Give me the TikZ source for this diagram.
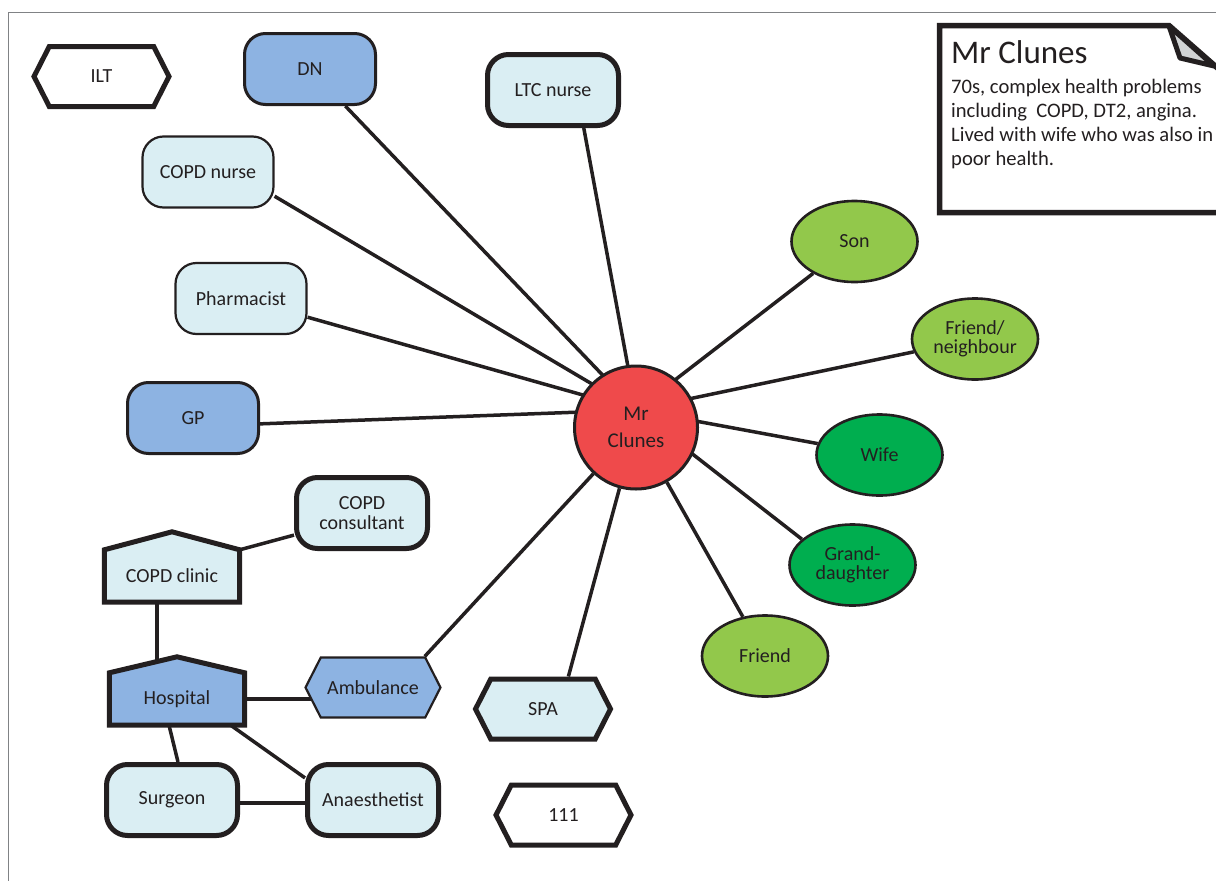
\documentclass[tikz,border=0pt]{standalone}
\usepackage{fontspec}
\setmainfont{Carlito}
\usetikzlibrary{shapes.geometric,shapes.symbols,calc}
\definecolor{ink}{HTML}{231F20}
\definecolor{blu}{HTML}{8DB3E2}
\definecolor{lblu}{HTML}{DAEEF3}
\definecolor{redc}{HTML}{EF4A4B}
\definecolor{lgreen}{HTML}{92C84B}
\definecolor{dgreen}{HTML}{00AE4F}
\definecolor{foldgray}{HTML}{D1D3D4}
\definecolor{framegray}{HTML}{808285}
\pgfdeclarelayer{edgelayer}
\pgfdeclarelayer{houselayer}
\pgfsetlayers{edgelayer,houselayer,main}
\begin{document}
\begin{tikzpicture}[x=1pt,y=-1pt,
  every node/.style={font=\fontsize{20}{19.5}\selectfont, text=ink, align=center},
  bthin/.style={line width=2.2pt},
  bmid/.style={line width=3pt},
  bthick/.style={line width=5pt},
  rbox/.style={rectangle, rounded corners=21pt, draw=ink, minimum width=131pt, minimum height=71pt, inner sep=0pt},
  hexa/.style={signal, signal to=west and east, signal pointer angle=126, draw=ink, minimum width=135pt, minimum height=60pt, inner sep=0pt},
  oval/.style={ellipse, draw=ink, line width=2.6pt, minimum width=126pt, minimum height=81pt, inner sep=0pt},
  housebody/.style={rectangle, minimum width=135pt, minimum height=52pt, inner sep=0pt},
  houseline/.style={draw=ink, line width=5pt, line join=miter},
  link/.style={draw=ink, line width=3.5pt},
]
\useasboundingbox (0,0) rectangle (1216,881);
% frame
\draw[framegray, line width=1.3pt] (8.3,881) -- (8.3,12.5) -- (1216,12.5);

% nodes
\node[hexa, bthick, fill=white] (ilt) at (101.5,76.5) {ILT};
\node[rbox, bmid, fill=blu] (dn) at (310,69) {DN};
\node[rbox, bthick, fill=lblu] (ltc) at (553,90) {LTC nurse};
\node[rbox, bthin, fill=lblu] (copdn) at (208,172) {COPD nurse};
\node[rbox, bthin, fill=lblu] (pharm) at (241,298.5) {Pharmacist};
\node[rbox, bmid, fill=blu] (gp) at (193,418) {GP};
\node[rbox, bthick, fill=lblu] (cons) at (362,513) {COPD\\consultant};
\node[housebody] (clinic) at (172,576) {COPD clinic};
\node[housebody] (hosp) at (177,699) {Hospital};
\node[hexa, bthin, fill=blu] (amb) at (373,687.5) {Ambulance};
\node[hexa, bthick, fill=lblu] (spa) at (543,709) {SPA};
\node[hexa, bthick, fill=white] (nhs) at (563.5,815) {111};
\node[rbox, bthick, fill=lblu] (surg) at (172,800) {Surgeon};
\node[rbox, bthick, fill=lblu] (anaes) at (373,800) {Anaesthetist};
\node[circle, draw=ink, line width=3pt, fill=redc, minimum size=123pt, inner sep=0pt,
      font=\fontsize{21}{27}\selectfont] (clunes) at (636,427.5) {Mr\\Clunes};
\coordinate (hub) at (636,410);
\node[oval, fill=lgreen] (son) at (854.5,241.5) {Son};
\node[oval, fill=lgreen] (fn) at (975,339) {Friend/\\neighbour};
\node[oval, fill=dgreen] (wife) at (879.5,455) {Wife};
\node[oval, fill=dgreen] (gd) at (852.5,565) {Grand-\\daughter};
\node[oval, fill=lgreen] (friend) at (765,656) {Friend};

% houses
\begin{pgfonlayer}{houselayer}
\filldraw[houseline, fill=lblu] (clinic.south west) -- (clinic.north west) -- ($(clinic.north)+(0,-18)$) -- (clinic.north east) -- (clinic.south east) -- cycle;
\filldraw[houseline, fill=blu] (hosp.south west) -- (hosp.north west) -- ($(hosp.north)+(0,-16)$) -- (hosp.north east) -- (hosp.south east) -- cycle;
\end{pgfonlayer}

% connectors
\begin{pgfonlayer}{edgelayer}
\draw[link] (dn) -- (hub);
\draw[link] (ltc.-51) -- (hub);
\draw[link] (copdn.-20) -- (hub);
\draw[link] (pharm) -- (hub);
\draw[link] (gp.-5) -- (hub);
\draw[link] (son) -- (hub);
\draw[link] (fn) -- (hub);
\draw[link] (wife) -- (hub);
\draw[link] (gd.153) -- (hub);
\draw[link] (friend) -- (clunes);
\draw[link] (spa.52) -- (clunes);
\draw[link] (amb.31) -- (clunes);
\draw[link] (clinic.north east) -- (cons.198);
\draw[link] ([xshift=-15pt]clinic.south) -- ([xshift=-20pt]hosp.north);
\draw[link] (hosp.east) -- (hosp.east -| amb.center);
\draw[link] ([xshift=-8pt]hosp.south) -- ([xshift=6pt]surg.north);
\draw[link] ([xshift=-14pt]hosp.south east) -- (anaes.162);
\draw[link] ([yshift=-3pt]surg.east) -- ([yshift=-3pt]anaes.west);
\end{pgfonlayer}

% note
\filldraw[draw=ink, fill=white, line width=5.5pt, line join=miter] (1230,212.5) -- (939.5,212.5) -- (939.5,25.5) -- (1169,25.5) -- (1230,79);
\filldraw[draw=ink, fill=foldgray, line width=5pt, line join=round] (1169,26) -- (1180,58) -- (1214,66) -- cycle;
\node[anchor=base west, inner sep=0pt, font=\fontsize{33}{33}\selectfont] (title) at (951,63) {Mr Clunes};
\node[anchor=north west, inner sep=0pt, align=left, font=\fontsize{20.6}{24}\selectfont] (notetext) at (951,79)
  {70s, complex health problems\\including\ \ COPD, DT2, angina.\\Lived with wife who was also in\\poor health.};
\end{tikzpicture}
\end{document}
